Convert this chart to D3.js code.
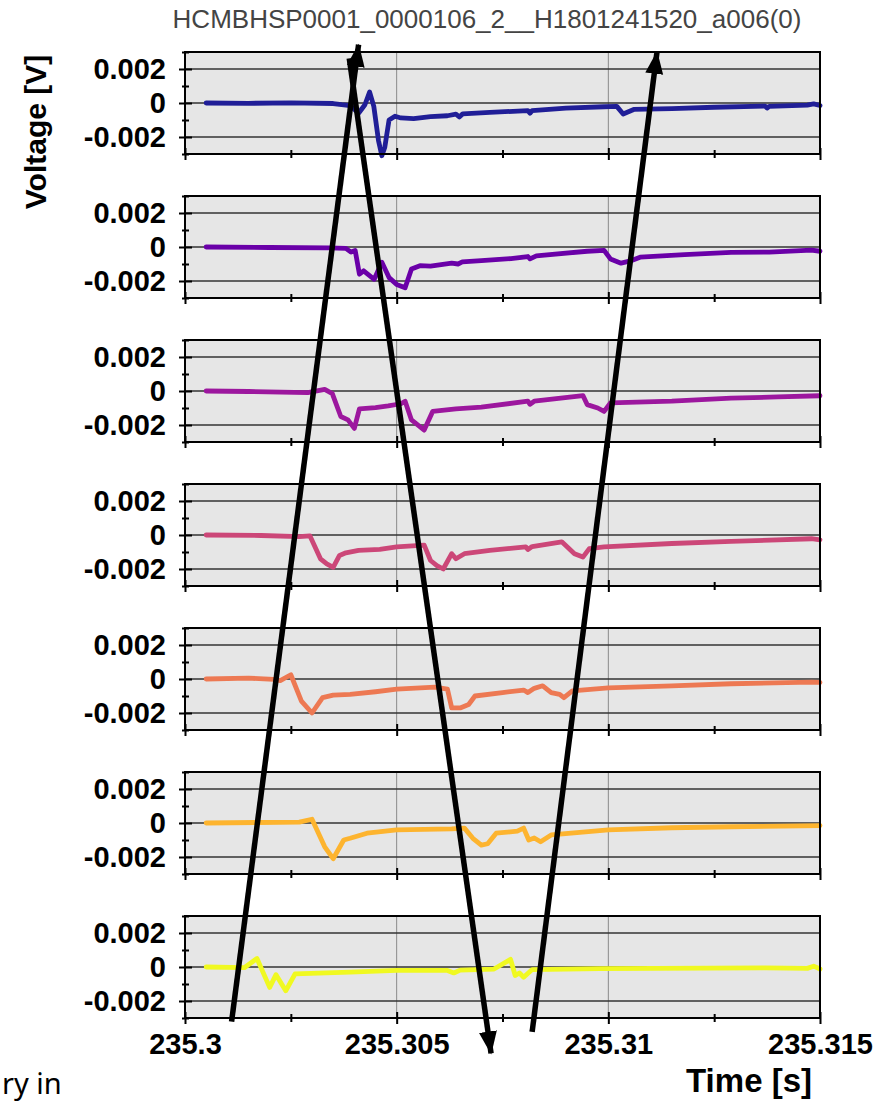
<!DOCTYPE html>
<html>
<head>
<meta charset="utf-8">
<script src="https://cdn.jsdelivr.net/npm/d3@7"></script>
<style>
  body { margin: 0; background: #fff; }
  text { font-family: "Liberation Sans", Arial, sans-serif; }
</style>
</head>
<body>
<div id="chart"></div>
<script>
// ---- data (time [s], voltage [V]) ----
const trace1 = [
  [235.3005, 0], [235.3015, -0.00002], [235.3025, 0.00001], [235.3035, -0.00003],
  [235.3037, -0.0001], [235.3039, -0.00015], [235.3041, -0.0006], [235.30425, -0.0001],
  [235.30436, 0.00065], [235.30446, -0.0002], [235.30457, -0.0022], [235.30465, -0.0031],
  [235.30472, -0.0026], [235.30482, -0.001], [235.30496, -0.00078], [235.3051, -0.00088],
  [235.3054, -0.00092], [235.3058, -0.0008], [235.3062, -0.00075], [235.3064, -0.00066],
  [235.30648, -0.00082], [235.30656, -0.00064], [235.3072, -0.00055], [235.3081, -0.00045],
  [235.30815, -0.0006], [235.3082, -0.00045], [235.309, -0.0003], [235.3099, -0.00022],
  [235.3102, -0.0002], [235.31035, -0.00065], [235.3106, -0.00038], [235.3115, -0.00033],
  [235.3125, -0.00025], [235.3137, -0.00018], [235.31375, -0.0003], [235.3138, -0.0002],
  [235.3147, -0.00012], [235.31485, -0.00005], [235.315, -0.00015]
];
const trace2 = [
  [235.3005, 0], [235.302, -0.00003], [235.3034, -0.00005], [235.3038, -0.00008],
  [235.30392, -0.0003], [235.30402, -0.0002], [235.30412, -0.0016], [235.30422, -0.0014],
  [235.30447, -0.0019], [235.30465, -0.0009], [235.30482, -0.0018], [235.305, -0.0022],
  [235.3052, -0.0024], [235.30535, -0.0013], [235.30555, -0.0011], [235.3058, -0.00112],
  [235.3063, -0.00095], [235.30645, -0.001], [235.30655, -0.00088], [235.307, -0.0008],
  [235.3077, -0.00068], [235.3081, -0.00056], [235.30815, -0.0007], [235.3083, -0.00052],
  [235.3095, -0.00025], [235.3099, -0.0002], [235.31005, -0.0007], [235.3103, -0.00095],
  [235.31055, -0.0008], [235.31075, -0.0006], [235.3118, -0.00045], [235.3129, -0.00032],
  [235.3138, -0.0003], [235.3148, -0.00018], [235.315, -0.00025]
];
const trace3 = [
  [235.3005, 0], [235.3015, -0.00003], [235.3029, -0.0001], [235.3033, 0.0001],
  [235.30348, -0.00015], [235.30368, -0.0015], [235.30385, -0.0017], [235.304, -0.0022],
  [235.30412, -0.00105], [235.3045, -0.00098], [235.3048, -0.00088], [235.3051, -0.00075],
  [235.3052, -0.0006], [235.30535, -0.0017], [235.30565, -0.0023], [235.30585, -0.0012],
  [235.3064, -0.00105], [235.307, -0.00095], [235.3081, -0.0006], [235.30815, -0.00078],
  [235.30825, -0.0006], [235.3094, -0.00027], [235.3095, -0.0008], [235.30975, -0.001],
  [235.3099, -0.0012], [235.31005, -0.0007], [235.3115, -0.0006], [235.3129, -0.00042],
  [235.314, -0.00035], [235.315, -0.00028]
];
const trace4 = [
  [235.3005, 0], [235.3018, -0.00003], [235.3027, -0.0001], [235.30295, -0.00005],
  [235.3032, -0.0014], [235.30335, -0.0017], [235.3035, -0.0019], [235.30365, -0.0012],
  [235.3038, -0.00105], [235.3041, -0.0009], [235.3046, -0.00085], [235.305, -0.0007],
  [235.30565, -0.0006], [235.3058, -0.0015], [235.30595, -0.0018], [235.3061, -0.002],
  [235.3063, -0.0011], [235.3064, -0.0014], [235.3066, -0.0011], [235.3072, -0.0009],
  [235.30805, -0.0007], [235.3081, -0.00085], [235.3082, -0.00068], [235.3089, -0.0004],
  [235.3092, -0.0011], [235.3094, -0.0013], [235.30955, -0.0008], [235.3099, -0.0007],
  [235.3115, -0.0005], [235.3129, -0.00038], [235.3148, -0.00022], [235.315, -0.00028]
];
const trace5 = [
  [235.3005, 0], [235.3015, 0.00005], [235.3021, -0.00002], [235.30225, -0.0001],
  [235.3025, 0.00025], [235.30275, -0.0013], [235.303, -0.002], [235.30325, -0.0011],
  [235.3035, -0.00095], [235.3039, -0.0009], [235.3045, -0.00075], [235.305, -0.0006],
  [235.3059, -0.00048], [235.3062, -0.0006], [235.3063, -0.0017], [235.3065, -0.0017],
  [235.3067, -0.0015], [235.30685, -0.001], [235.3075, -0.0008], [235.308, -0.00065],
  [235.3081, -0.0008], [235.30825, -0.00055], [235.30845, -0.0004], [235.30865, -0.0008],
  [235.30885, -0.0009], [235.30895, -0.0011], [235.30915, -0.0007], [235.31, -0.00052],
  [235.3115, -0.0004], [235.3129, -0.00028], [235.3148, -0.00018], [235.315, -0.0002]
];
const trace6 = [
  [235.3005, 0], [235.3017, 0.00003], [235.3027, 0.00005], [235.303, 0.00022],
  [235.3033, -0.0014], [235.3035, -0.0021], [235.30375, -0.001], [235.3039, -0.0009],
  [235.3043, -0.0006], [235.305, -0.0004], [235.3063, -0.00035], [235.3066, -0.0003],
  [235.3068, -0.0009], [235.307, -0.0013], [235.30715, -0.00122], [235.30735, -0.0006],
  [235.30785, -0.00048], [235.308, -0.0003], [235.30812, -0.001], [235.30825, -0.00088],
  [235.3084, -0.0011], [235.30865, -0.0007], [235.31, -0.0004], [235.3115, -0.00028],
  [235.3129, -0.00022], [235.315, -0.00015]
];
const trace7 = [
  [235.3005, 0], [235.3014, -0.00004], [235.3017, 0.0005], [235.302, -0.0012],
  [235.30215, -0.00045], [235.30238, -0.0014], [235.3026, -0.0004], [235.3039, -0.0003],
  [235.305, -0.0002], [235.3062, -0.0002], [235.30635, -0.00035], [235.3065, -0.00018],
  [235.3073, -0.00012], [235.30769, 0.00045], [235.3078, -0.0005], [235.3079, -0.00035],
  [235.308, -0.0006], [235.3082, -0.00015], [235.3098, -0.0001], [235.3137, -0.00005],
  [235.3147, -0.00008], [235.31485, 0.00005], [235.315, -0.00012]
];
const traces = [trace1, trace2, trace3, trace4, trace5, trace6, trace7];
const traceColors = ["#201e97", "#6a00a8", "#9c179e", "#cc4778", "#ed7953", "#fdb42f", "#f0f921"];

const xTicks = [235.3, 235.305, 235.31, 235.315];
const xMinor = [235.3025, 235.3075, 235.3125];
const xGrid = [235.305, 235.31];
const yTicks = [-0.002, 0, 0.002];
const yMinor = [-0.003, -0.001, 0.001, 0.003];

// hand-drawn arrows: time on x, panel index (0 = zero line of first panel) on y
const arrows = [
  { t0: 235.3011, u0: 6.38, t1: 235.3041, u1: -0.405 },
  { t0: 235.30388, u0: -0.31, t1: 235.30723, u1: 6.6 },
  { t0: 235.3082, u0: 6.45, t1: 235.31115, u1: -0.355 }
];

const titleText = "HCMBHSP0001_0000106_2__H1801241520_a006(0)";

// ---- layout ----
const w = 879, h = 1102;
const left = 185, right = 820;
const panelH = 102;

const svg = d3.select("#chart").append("svg")
  .attr("width", w).attr("height", h);

const x = d3.scaleLinear().domain([235.3, 235.315]).range([left, right]);
const panelTop = d3.scaleLinear().domain([0, 6]).range([52, 916]);
const panelZero = d3.scaleLinear().domain([0, 6]).range([103, 967]);

traces.forEach((data, i) => {
  const top = panelTop(i);
  const y = d3.scaleLinear().domain([-0.003, 0.003]).range([top + panelH, top]);
  const g = svg.append("g");

  g.append("rect")
    .attr("x", left).attr("y", top)
    .attr("width", right - left).attr("height", panelH)
    .attr("fill", "#e6e6e6");

  // grid
  g.selectAll(".vg").data(xGrid).join("line")
    .attr("x1", d => x(d)).attr("x2", d => x(d))
    .attr("y1", top).attr("y2", top + panelH)
    .attr("stroke", "#8a8a8a").attr("stroke-width", 1);
  g.selectAll(".hg").data(yTicks).join("line")
    .attr("x1", left).attr("x2", right)
    .attr("y1", d => y(d)).attr("y2", d => y(d))
    .attr("stroke", "#333").attr("stroke-width", 1.4);

  // trace
  g.append("path")
    .datum(data)
    .attr("fill", "none")
    .attr("stroke", traceColors[i])
    .attr("stroke-width", 4.8)
    .attr("stroke-linejoin", "round")
    .attr("stroke-linecap", "round")
    .attr("d", d3.line().x(d => x(d[0])).y(d => y(d[1])));

  // frame
  g.append("rect")
    .attr("x", left).attr("y", top)
    .attr("width", right - left).attr("height", panelH)
    .attr("fill", "none").attr("stroke", "#000").attr("stroke-width", 2);

  // left axis: labels + outer ticks
  const yAx = g.append("g")
    .attr("transform", `translate(${left},0)`)
    .call(d3.axisLeft(y).tickValues(yTicks).tickSize(6).tickPadding(13)
      .tickFormat(d => String(d)));
  yAx.select(".domain").remove();
  yAx.selectAll("line").attr("stroke-width", 2);
  yAx.selectAll("text")
    .attr("font-family", "'Liberation Sans', Arial, sans-serif")
    .attr("font-size", 29).attr("font-weight", "bold").attr("fill", "#000");
  // inner major ticks
  g.append("g").attr("transform", `translate(${left},0)`)
    .call(d3.axisRight(y).tickValues(yTicks).tickSize(7).tickFormat(""))
    .call(a => { a.select(".domain").remove(); a.selectAll("line").attr("stroke-width", 2); });
  // minor ticks
  g.append("g").attr("transform", `translate(${left},0)`)
    .call(d3.axisLeft(y).tickValues(yMinor).tickSize(3).tickFormat(""))
    .call(a => { a.select(".domain").remove(); a.selectAll("line").attr("stroke-width", 2); });
  g.append("g").attr("transform", `translate(${left},0)`)
    .call(d3.axisRight(y).tickValues(yMinor).tickSize(4).tickFormat(""))
    .call(a => { a.select(".domain").remove(); a.selectAll("line").attr("stroke-width", 2); });

  // bottom ticks
  const bottom = top + panelH;
  const last = i === traces.length - 1;
  const xAx = g.append("g")
    .attr("transform", `translate(0,${bottom})`)
    .call(d3.axisBottom(x).tickValues(xTicks).tickSize(6).tickPadding(9)
      .tickFormat(last ? (d => String(d)) : ""));
  xAx.select(".domain").remove();
  xAx.selectAll("line").attr("stroke-width", 2);
  xAx.selectAll("text")
    .attr("font-family", "'Liberation Sans', Arial, sans-serif")
    .attr("font-size", 29).attr("font-weight", "bold").attr("fill", "#000");
  g.append("g").attr("transform", `translate(0,${bottom})`)
    .call(d3.axisTop(x).tickValues(xTicks).tickSize(6).tickFormat(""))
    .call(a => { a.select(".domain").remove(); a.selectAll("line").attr("stroke-width", 2); });
  g.append("g").attr("transform", `translate(0,${bottom})`)
    .call(d3.axisBottom(x).tickValues(xMinor).tickSize(4).tickFormat(""))
    .call(a => { a.select(".domain").remove(); a.selectAll("line").attr("stroke-width", 2); });
  g.append("g").attr("transform", `translate(0,${bottom})`)
    .call(d3.axisTop(x).tickValues(xMinor).tickSize(4).tickFormat(""))
    .call(a => { a.select(".domain").remove(); a.selectAll("line").attr("stroke-width", 2); });
});

// title
svg.append("text")
  .attr("x", 487).attr("y", 28)
  .attr("text-anchor", "middle")
  .attr("font-size", 26)
  .attr("fill", "#444")
  .text(titleText);

// y label
svg.append("text")
  .attr("transform", "translate(46,132) rotate(-90)")
  .attr("text-anchor", "middle")
  .attr("font-size", 30).attr("font-weight", "bold")
  .text("Voltage [V]");

// x label
svg.append("text")
  .attr("x", 812).attr("y", 1092)
  .attr("text-anchor", "end")
  .attr("font-size", 33).attr("font-weight", "bold")
  .text("Time [s]");

// stray text from the page underneath
svg.append("text")
  .attr("x", 2).attr("y", 1094)
  .style("font-family", "'Noto Sans', sans-serif")
  .attr("font-size", 29)
  .text("ry in");

// arrows
svg.append("defs").append("marker")
  .attr("id", "head")
  .attr("markerUnits", "userSpaceOnUse")
  .attr("viewBox", "0 -10 24 20")
  .attr("refX", 22).attr("refY", 0)
  .attr("markerWidth", 24).attr("markerHeight", 20)
  .attr("orient", "auto")
  .append("path")
  .attr("d", "M0,-9L23,0L0,9Z")
  .attr("fill", "#000");

svg.append("g").selectAll("line").data(arrows).join("line")
  .attr("x1", d => x(d.t0)).attr("y1", d => panelZero(d.u0))
  .attr("x2", d => x(d.t1)).attr("y2", d => panelZero(d.u1))
  .attr("stroke", "#000").attr("stroke-width", 5.5)
  .attr("marker-end", "url(#head)");
</script>
</body>
</html>
